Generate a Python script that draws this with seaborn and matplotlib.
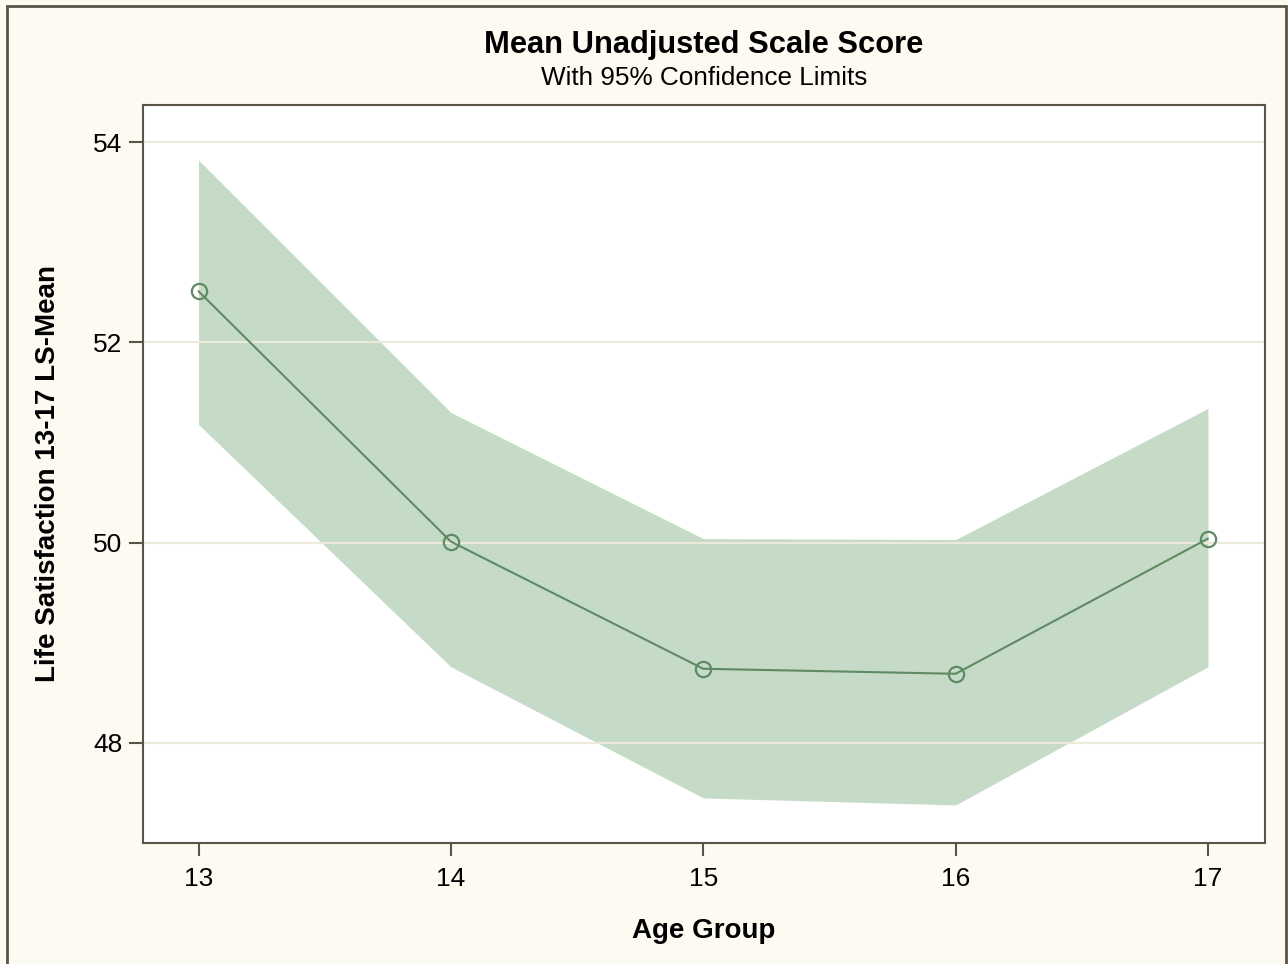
import matplotlib
matplotlib.use("Agg")
import matplotlib.pyplot as plt
import seaborn as sns
import pandas as pd
from matplotlib.patches import Rectangle

# data
age_group = [13, 14, 15, 16, 17]
ls_mean = [52.51, 50.01, 48.74, 48.69, 50.04]
upper_cl = [53.82, 51.30, 50.04, 50.03, 51.34]
lower_cl = [51.18, 48.76, 47.45, 47.38, 48.76]

df = pd.DataFrame({"age": age_group, "mean": ls_mean, "upper": upper_cl, "lower": lower_cl})

sns.set_theme(style="white")
plt.rcParams["font.family"] = ["Liberation Sans", "DejaVu Sans"]
plt.rcParams["text.color"] = "black"
plt.rcParams["axes.labelcolor"] = "black"

bg = "#FDFAF2"
line_col = "#5F8A63"
band_col = "#C5DBC7"
frame_col = "#5A5448"

fig = plt.figure(figsize=(12.88, 9.64), dpi=100, facecolor=bg)
ax = fig.add_axes([143 / 1288, 1 - 843 / 964, (1265 - 143) / 1288, (843 - 105) / 964])
ax.set_facecolor("white")

ax.fill_between(df["age"], df["lower"], df["upper"], color=band_col, lw=0, zorder=1)
for y in [48, 50, 52, 54]:
    ax.axhline(y, color="#EDEADB", lw=1.5, zorder=2)
sns.lineplot(data=df, x="age", y="mean", ax=ax, color=line_col, lw=1.5,
             marker="o", markersize=11, markerfacecolor="none",
             markeredgecolor=line_col, markeredgewidth=1.6, zorder=3)

ax.set_xlim(12.78, 17.226)
ax.set_ylim(47.0, 54.37)
ax.set_xticks(age_group)
ax.set_yticks([48, 50, 52, 54])
ax.tick_params(axis="x", direction="out", length=9, width=1.5, color=frame_col,
               labelsize=19, pad=8.5, bottom=True, labelcolor="black")
ax.tick_params(axis="y", direction="out", length=10, width=1.5, color=frame_col,
               labelsize=19, pad=5, left=True, labelcolor="black")
for s in ax.spines.values():
    s.set_color(frame_col)
    s.set_linewidth(1.5)

ax.set_xlabel("Age Group", fontsize=20, fontweight="bold", labelpad=19)
ax.set_ylabel("Life Satisfaction 13-17 LS-Mean", fontsize=20, fontweight="bold", labelpad=23)

fig.text(0.5465, 1 - 45 / 964, "Mean Unadjusted Scale Score", ha="center", va="center",
         fontsize=22.2, fontweight="bold")
fig.text(0.5465, 1 - 78 / 964, "With 95% Confidence Limits", ha="center", va="center",
         fontsize=18.8)

# outer border
fig.patches.append(Rectangle((7 / 1288, -0.01), (1286 - 7) / 1288, 1 - 6 / 964 + 0.01,
                             transform=fig.transFigure, fill=False, ec=frame_col, lw=2))

fig.savefig("out.png", dpi=100, facecolor=bg)
